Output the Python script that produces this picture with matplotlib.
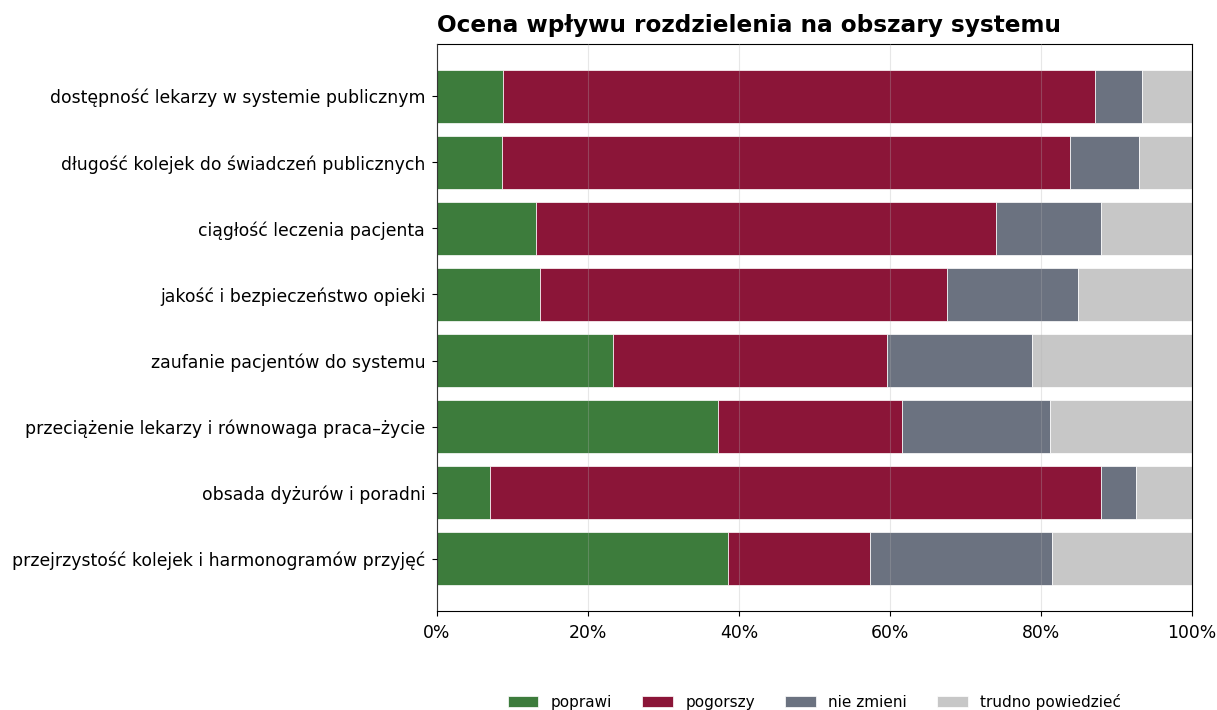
import matplotlib
matplotlib.use("Agg")
import matplotlib.pyplot as plt
import numpy as np
from matplotlib.ticker import PercentFormatter

categories = [
    "dostępność lekarzy w systemie publicznym",
    "długość kolejek do świadczeń publicznych",
    "ciągłość leczenia pacjenta",
    "jakość i bezpieczeństwo opieki",
    "zaufanie pacjentów do systemu",
    "przeciążenie lekarzy i równowaga praca–życie",
    "obsada dyżurów i poradni",
    "przejrzystość kolejek i harmonogramów przyjęć",
]
poprawi = [8.7, 8.6, 13.1, 13.7, 23.3, 37.2, 7.0, 38.5]
pogorszy = [78.4, 75.2, 61.0, 53.8, 36.3, 24.4, 80.9, 18.9]
nie_zmieni = [6.3, 9.2, 13.8, 17.4, 19.2, 19.6, 4.7, 24.0]
trudno = [6.6, 7.0, 12.1, 15.1, 21.2, 18.8, 7.4, 18.6]

series_names = ["poprawi", "pogorszy", "nie zmieni", "trudno powiedzieć"]
colors = ["#3d7c3c", "#8b1538", "#6b7280", "#c7c7c7"]

fig = plt.figure(figsize=(12.17, 7.10), dpi=100)
ax = fig.add_axes([437/1217, 1-611/710, (1192-437)/1217, (611-44)/710])

y = np.arange(len(categories))
left = np.zeros(len(categories))
for name, vals, c in zip(series_names, [poprawi, pogorszy, nie_zmieni, trudno], colors):
    vals = np.array(vals)
    ax.barh(y, vals, left=left, height=0.8, color=c, label=name,
            edgecolor="white", linewidth=0.5)
    left += vals

ax.set_yticks(y)
ax.set_yticklabels(categories, fontsize=12.4)
ax.invert_yaxis()
ax.set_xlim(0, 100)
ax.set_xticks([0, 20, 40, 60, 80, 100])
ax.xaxis.set_major_formatter(PercentFormatter(decimals=0))
ax.tick_params(axis="x", labelsize=12.4, pad=5.5)
ax.tick_params(axis="y", pad=5.0)
ax.set_axisbelow(False)
ax.grid(axis="x", color="#b0b0b0", alpha=0.3, linewidth=0.8)

ax.set_title("Ocena wpływu rozdzielenia na obszary systemu", loc="left",
             fontsize=16.7, fontweight="bold", pad=8.5)

ax.legend(loc="center", bbox_to_anchor=(0.5, -0.16), ncol=4, frameon=False,
          fontsize=11, columnspacing=2.0)

fig.savefig("out.png", dpi=100)
